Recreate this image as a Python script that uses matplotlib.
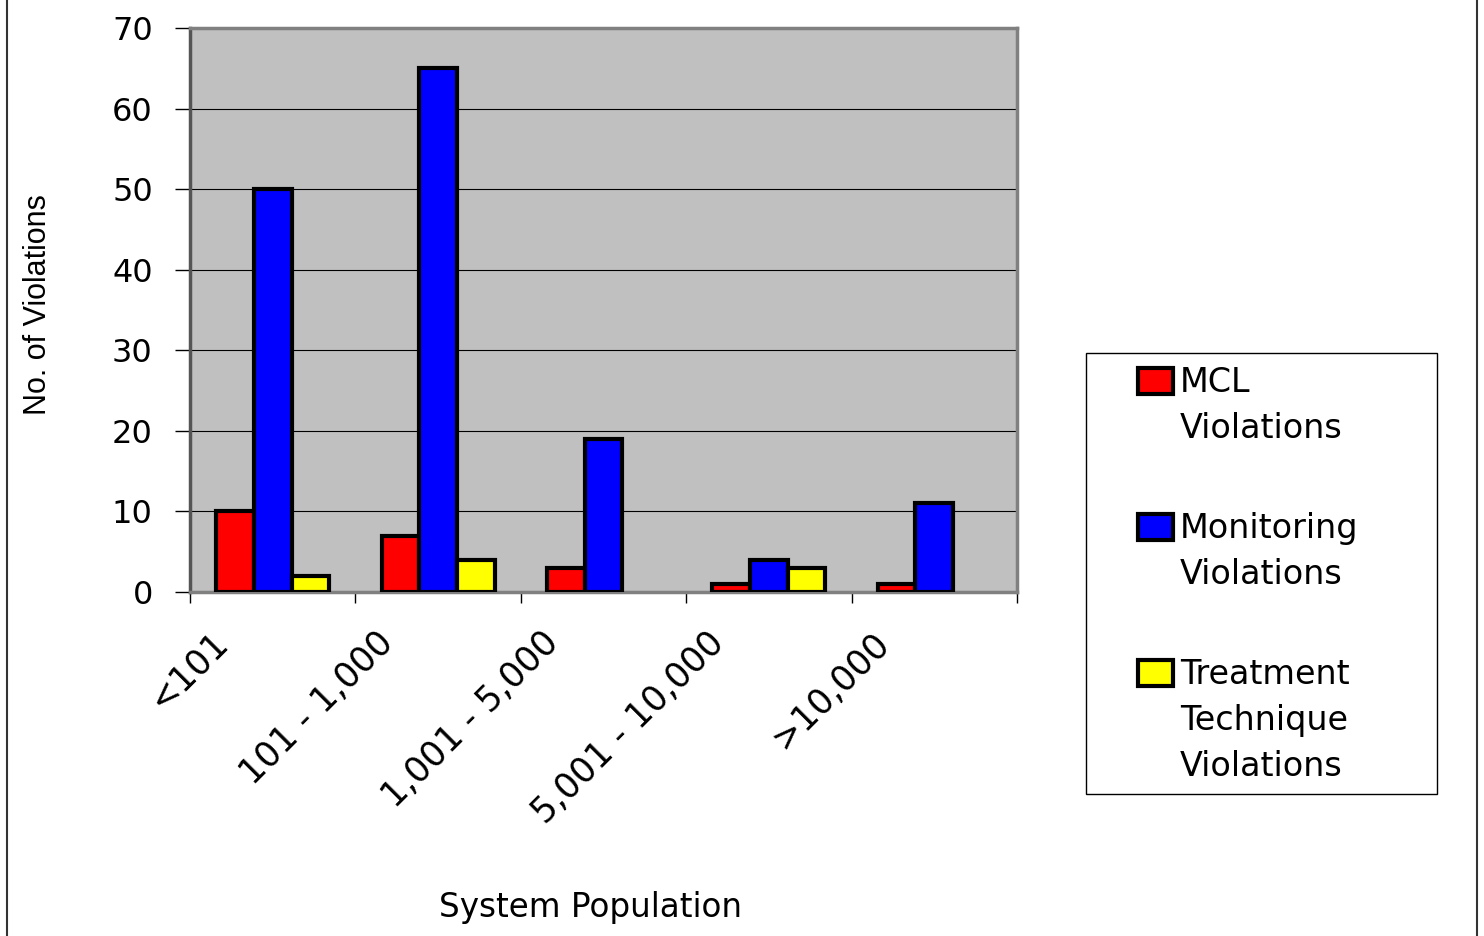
import numpy as np
import matplotlib
matplotlib.use('Agg')
import matplotlib.pyplot as plt
from matplotlib.patches import Rectangle
from matplotlib.lines import Line2D
from matplotlib.transforms import ScaledTranslation

# violations by system population band
categories = ['<101', '101 - 1,000', '1,001 - 5,000', '5,001 - 10,000', '>10,000']
mcl = [10, 7, 3, 1, 1]
monitoring = [50, 65, 19, 4, 11]
treatment = [2, 4, 0, 3, 0]

series_names = ['MCL\nViolations', 'Monitoring\nViolations', 'Treatment\nTechnique\nViolations']
series_colors = ['#ff0000', '#0000ff', '#ffff00']
y_ticks = [0, 10, 20, 30, 40, 50, 60, 70]

# figure size in pixels, used for placing things in figure coords
W, H = 1484, 936
plt.rcParams['font.family'] = 'DejaVu Sans'

fig = plt.figure(figsize=(W / 100, H / 100), dpi=100)
ax = fig.add_axes([190 / W, 1 - 592 / H, 827 / W, 564 / H])
ax.set_facecolor('#c0c0c0')

x = np.arange(len(categories))
w = 0.228
for i, (vals, col) in enumerate(zip([mcl, monitoring, treatment], series_colors)):
    vals = np.array(vals)
    # zero-height bars would leave a black stub on the axis, so no edge for them
    ax.bar(x + (i - 1) * w, vals, w, color=col, edgecolor='black',
           linewidth=np.where(vals > 0, 3.0, 0), zorder=3)

ax.set_ylim(0, 70)
ax.set_yticks(y_ticks)
ax.tick_params(axis='y', length=10.8, width=1, color='black', pad=16, labelsize=23)
ax.yaxis.grid(True, color='black', linewidth=0.8)
ax.set_axisbelow(True)

ax.set_xlim(-0.5, len(categories) - 0.5)
ax.set_xticks(x)
ax.set_xticklabels(categories, rotation=45, ha='right', va='top')
ax.tick_params(axis='x', which='major', length=0, pad=24, labelsize=25)
ax.set_xticks(np.arange(-0.5, len(categories), 1), minor=True)
ax.tick_params(axis='x', which='minor', length=8, width=1, color='black')
for lab in ax.get_xticklabels():
    lab.set_transform(lab.get_transform() + ScaledTranslation(-0.38, 0, fig.dpi_scale_trans))

for s in ax.spines.values():
    s.set_color('#808080')
    s.set_linewidth(2.5)
ax.spines['left'].set_color('#555555')

ax.set_ylabel('No. of Violations', fontsize=22, family='Liberation Sans')
ax.yaxis.set_label_coords(-0.166, 0.51)
ax.set_xlabel('System Population', fontsize=23.5)
ax.xaxis.set_label_coords(0.4837, -0.53)

# legend box drawn by hand so the swatch sits on the first line of each label
fig.add_artist(Rectangle((1086 / W, 1 - 794 / H), 351 / W, 441 / H, transform=fig.transFigure,
                         facecolor='white', edgecolor='black', linewidth=1))
for k, (name, col) in enumerate(zip(series_names, series_colors)):
    top = 368 + k * 146
    fig.add_artist(Rectangle((1138 / W, 1 - (top + 26) / H), 35 / W, 26 / H,
                             transform=fig.transFigure, facecolor=col,
                             edgecolor='black', linewidth=3.0))
    fig.text(1180 / W, 1 - (top - 2) / H, name, fontsize=24, va='top', linespacing=1.5)

# side rules of the chart frame
for xp in (7, 1477):
    fig.add_artist(Line2D([xp / W, xp / W], [0, 1], transform=fig.transFigure,
                          color='#333333', linewidth=1.5))

fig.savefig('out.png', dpi=100)
